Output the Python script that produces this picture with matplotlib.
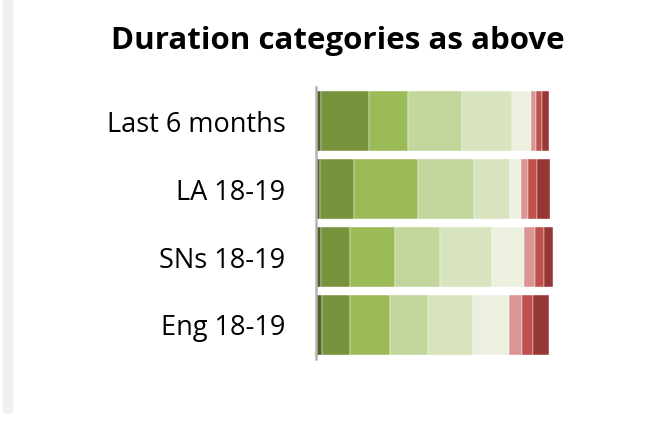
import matplotlib
matplotlib.use("Agg")
import matplotlib.pyplot as plt
from matplotlib.patches import Rectangle
import numpy as np

plt.rcParams['font.family'] = ['Open Sans', 'DejaVu Sans']

categories = ['Last 6 months', 'LA 18-19', 'SNs 18-19', 'Eng 18-19']

# share of each duration band (%), shortest to longest
band_values = [
    [2.1, 20.6, 16.7, 23.2, 21.5, 8.2, 2.1, 2.6, 3.0],
    [1.7, 14.6, 27.5, 24.0, 15.5, 4.7, 3.0, 3.9, 5.6],
    [2.1, 12.4, 19.3, 19.3, 22.3, 13.7, 4.7, 3.9, 3.9],
    [2.6, 12.0, 17.2, 16.3, 19.3, 15.5, 5.6, 4.7, 6.9],
]

band_colours = ['#4f6228', '#77933c', '#9bbb59', '#c3d69b', '#d7e4bd',
                '#ebf1de', '#d99694', '#c0504d', '#953735']

W, H = 662, 428
fig = plt.figure(figsize=(W / 100, H / 100), dpi=100)

# light grey strip down the left edge
fig.patches.append(Rectangle((3 / W, (H - 412) / H), 9 / W, 412 / H,
                             transform=fig.transFigure, color='#f0f0f0', zorder=0))

ax = fig.add_axes([316 / W, (H - 359) / H, 233 / W, 272 / H])

vals = np.array(band_values)
y = np.arange(len(categories))
left = np.zeros(len(categories))
for j, col in enumerate(band_colours):
    ax.barh(y, vals[:, j], left=left, height=0.88, color=col,
            edgecolor='#ffffff', linewidth=0.3, clip_on=False)
    left += vals[:, j]

ax.set_xlim(0, 100)
ax.set_ylim(3.5, -0.5)
ax.set_yticks(y)
ax.set_yticklabels(categories, fontsize=19.5)
ax.tick_params(axis='y', length=0, pad=22)
ax.set_xticks([])
for s in ['top', 'right', 'bottom']:
    ax.spines[s].set_visible(False)
ax.spines['left'].set_color('#b3b3b3')
ax.spines['left'].set_linewidth(1.8)

fig.text(338 / W, (H - 41) / H, 'Duration categories as above', fontsize=22.5,
         fontweight='bold', ha='center', va='center')

fig.savefig('out.png', dpi=100)
